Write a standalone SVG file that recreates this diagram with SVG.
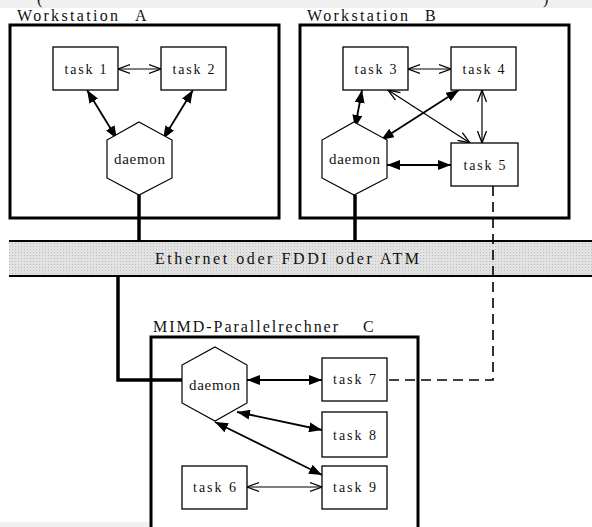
<svg xmlns="http://www.w3.org/2000/svg" width="592" height="527" viewBox="0 0 592 527">
<style>
.lbl{font-size:16px;font-family:"Times New Roman","Liberation Serif",serif;fill:#111}
.t{font-size:14px;text-anchor:middle;font-family:"Times New Roman","Liberation Serif",serif;fill:#111}
.d{font-size:15px;text-anchor:middle;font-family:"Times New Roman","Liberation Serif",serif;fill:#111}
.host{fill:#fff;stroke:#000;stroke-width:3}
.task{fill:#fff;stroke:#000;stroke-width:1.3}
.hex{fill:#fff;stroke:#000;stroke-width:1.2}
.fa{stroke:#000;stroke-width:1.8;fill:none;marker-start:url(#fh);marker-end:url(#fh)}
.oa{stroke:#000;stroke-width:1.2;fill:none;marker-start:url(#oh);marker-end:url(#oh)}
.net{stroke:#000;stroke-width:3.5;fill:none}
.dash{stroke:#000;stroke-width:1.6;fill:none;stroke-dasharray:10 6}
</style>
<defs>
<marker id="fh" markerUnits="userSpaceOnUse" markerWidth="14" markerHeight="10" refX="13" refY="5" orient="auto-start-reverse"><path d="M0,0 L13,5 L0,10 z" fill="#000"/></marker>
<marker id="oh" markerUnits="userSpaceOnUse" markerWidth="14" markerHeight="12" refX="12" refY="6" orient="auto-start-reverse"><path d="M0,1.5 L12,6 L0,10.5" fill="none" stroke="#000" stroke-width="1.3"/></marker>
<pattern id="dots" width="3" height="3" patternUnits="userSpaceOnUse"><rect width="3" height="3" fill="#e2e2e2"/><rect width="1" height="1" fill="#bdbdbd"/></pattern>
</defs>
<rect width="592" height="527" fill="#fff"/>
<rect x="0" y="0" width="592" height="8" fill="#f0f0f0"/>
<text x="37" y="4" class="lbl">(</text>
<text x="543" y="4" class="lbl">)</text>
<rect x="0" y="522" width="276" height="5" fill="#f0f0f0"/>

<g id="network">
<rect x="9" y="241" width="590" height="35" fill="url(#dots)"/>
<line x1="9" y1="241" x2="592" y2="241" stroke="#000" stroke-width="1.8"/>
<line x1="9" y1="276" x2="592" y2="276" stroke="#000" stroke-width="1.8"/>
<text x="155" y="264" class="lbl" textLength="264" lengthAdjust="spacing">Ethernet oder FDDI oder ATM</text>
</g>

<g id="workstationA">
<rect class="host" x="10" y="25" width="269" height="193"/>
<text x="17" y="21" class="lbl" textLength="101" lengthAdjust="spacing">Workstation</text>
<text x="135" y="21" class="lbl">A</text>
</g>
<g id="workstationB">
<rect class="host" x="300" y="25" width="269" height="193"/>
<text x="307" y="21" class="lbl" textLength="101" lengthAdjust="spacing">Workstation</text>
<text x="425" y="21" class="lbl">B</text>
</g>
<g id="mimdC">
<rect class="host" x="151" y="337" width="267" height="200"/>
<text x="153" y="332" class="lbl" textLength="185" lengthAdjust="spacing">MIMD-Parallelrechner</text>
<text x="363" y="332" class="lbl">C</text>
</g>

<g id="connectors">
<line class="net" x1="139" y1="195" x2="139" y2="241"/>
<line class="net" x1="355" y1="195" x2="355" y2="241"/>
<polyline class="net" points="118,276 118,380 182,380"/>
<polyline class="dash" points="493,186 493,380 387,380"/>
<line class="oa" x1="118" y1="69" x2="161" y2="69"/>
<line class="fa" x1="87" y1="90" x2="117" y2="139"/>
<line class="fa" x1="193" y1="90" x2="163" y2="139"/>
<line class="oa" x1="408" y1="69" x2="451" y2="69"/>
<line class="fa" x1="362" y1="90" x2="355" y2="128"/>
<line class="fa" x1="459" y1="90" x2="381" y2="140"/>
<line class="oa" x1="388" y1="90" x2="470" y2="143"/>
<line class="oa" x1="482" y1="90" x2="482" y2="143"/>
<line class="fa" x1="387" y1="165" x2="451" y2="165"/>
<line class="fa" x1="247" y1="380" x2="322" y2="380"/>
<line class="fa" x1="237" y1="412" x2="322" y2="430"/>
<line class="fa" x1="215" y1="422" x2="322" y2="475"/>
<line class="oa" x1="247" y1="487" x2="322" y2="487"/>
</g>

<g id="task1"><rect class="task" x="53" y="47" width="65" height="43"/><text x="85.5" y="74" class="t" textLength="42" lengthAdjust="spacing">task 1</text></g>
<g id="task2"><rect class="task" x="161" y="47" width="65" height="43"/><text x="193.5" y="74" class="t" textLength="42" lengthAdjust="spacing">task 2</text></g>
<g id="daemonA"><polygon class="hex" points="139,122 172,140 172,178 139,195 107,178 107,140"/><text x="139.5" y="164" class="d" textLength="51" lengthAdjust="spacing">daemon</text></g>

<g id="task3"><rect class="task" x="343" y="47" width="65" height="43"/><text x="375.5" y="74" class="t" textLength="42" lengthAdjust="spacing">task 3</text></g>
<g id="task4"><rect class="task" x="451" y="47" width="65" height="43"/><text x="483.5" y="74" class="t" textLength="42" lengthAdjust="spacing">task 4</text></g>
<g id="task5"><rect class="task" x="451" y="143" width="67" height="43"/><text x="484.5" y="170" class="t" textLength="42" lengthAdjust="spacing">task 5</text></g>
<g id="daemonB"><polygon class="hex" points="354,122 387,140 387,178 354,195 322,178 322,140"/><text x="354.5" y="164" class="d" textLength="51" lengthAdjust="spacing">daemon</text></g>

<g id="daemonC"><polygon class="hex" points="215,347 247,365 247,403 215,421 182,403 182,365"/><text x="214.5" y="390" class="d" textLength="51" lengthAdjust="spacing">daemon</text></g>
<g id="task7"><rect class="task" x="322" y="358" width="65" height="43"/><text x="354.5" y="384" class="t" textLength="43" lengthAdjust="spacing">task 7</text></g>
<g id="task8"><rect class="task" x="322" y="412" width="65" height="45"/><text x="354.5" y="440" class="t" textLength="43" lengthAdjust="spacing">task 8</text></g>
<g id="task9"><rect class="task" x="322" y="466" width="65" height="43"/><text x="354.5" y="492" class="t" textLength="43" lengthAdjust="spacing">task 9</text></g>
<g id="task6"><rect class="task" x="182" y="466" width="65" height="43"/><text x="214.5" y="492" class="t" textLength="43" lengthAdjust="spacing">task 6</text></g>
</svg>
